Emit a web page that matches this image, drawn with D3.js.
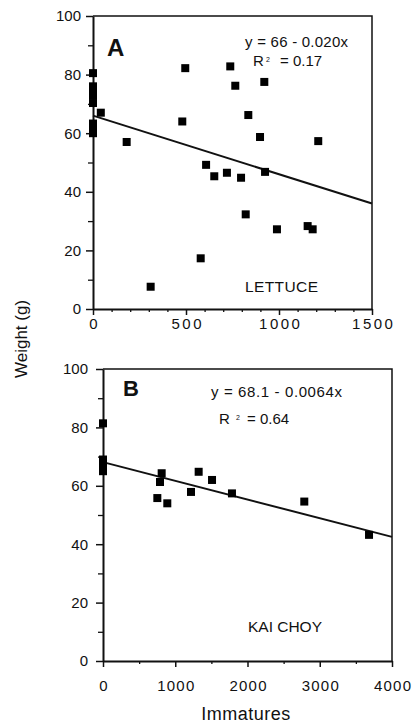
<!DOCTYPE html>
<html>
<head>
<meta charset="utf-8">
<script src="https://cdn.jsdelivr.net/npm/d3@7"></script>
<style>
  body { margin: 0; background: #fff; }
  svg text { font-family: "Liberation Sans", Arial, Helvetica, sans-serif; fill: #111; }
  .axis path, .axis line { stroke: #111; }
</style>
</head>
<body>
<script>
// Lettuce (panel A)
var lettuceX = [0, 0, 0, 0, 0, 0, 0, 0, 42, 181, 310, 480, 496, 579, 608, 652, 720, 738, 765, 796, 821, 835, 898, 921, 925, 989, 1154, 1181, 1211];
var lettuceY = [80.5, 76, 74.5, 73, 70.3, 63.3, 61.6, 60, 67, 57, 7.6, 64, 82.2, 17.3, 49.2, 45.3, 46.5, 82.8, 76.2, 44.8, 32.3, 66.2, 58.7, 77.5, 46.8, 27.2, 28.3, 27.2, 57.3];
var lettuceFit = [66, -0.020];

// Kai choy (panel B)
var kaiChoyX = [0, 0, 0, 0, 752, 789, 812, 890, 1218, 1324, 1509, 1785, 2786, 3682];
var kaiChoyY = [81.4, 69, 67, 65, 55.8, 61.3, 64.3, 54, 57.9, 64.8, 62, 57.4, 54.6, 43.2];
var kaiChoyFit = [68.1, -0.0064];

var yMajor = [0, 20, 40, 60, 80, 100];
var yMinor = [10, 30, 50, 70, 90];
var xMajorA = [0, 500, 1000, 1500];
var xMajorB = [0, 1000, 2000, 3000, 4000];

var svgW = 414, svgH = 723;
var svg = d3.select("body").append("svg").attr("width", svgW).attr("height", svgH);

function panel(p){
	var x = d3.scaleLinear().domain(p.xDomain).range([p.left, p.right]);
	var y = d3.scaleLinear().domain([0, 100]).range([p.bottom, p.top]);
	var g = svg.append("g");

	// frame (top and right)
	g.append("path")
		.attr("d", "M" + p.left + "," + p.top + "H" + p.right + "V" + p.bottom)
		.attr("fill", "none").attr("stroke", "#111").attr("stroke-width", 1.5);

	// minor ticks
	g.append("g").attr("class", "axis").attr("transform", "translate(0," + p.bottom + ")")
		.call(d3.axisBottom(x).tickValues(p.xMinor).tickSize(3).tickFormat(""))
		.call(function(s){ s.select(".domain").remove(); s.selectAll("line").attr("stroke-width", 1.3); });
	g.append("g").attr("class", "axis").attr("transform", "translate(" + p.left + ",0)")
		.call(d3.axisLeft(y).tickValues(yMinor).tickSize(5).tickFormat(""))
		.call(function(s){ s.select(".domain").remove(); s.selectAll("line").attr("stroke-width", 1.3); });

	// major axes
	var xa = g.append("g").attr("class", "axis").attr("transform", "translate(0," + p.bottom + ")")
		.call(d3.axisBottom(x).tickValues(p.xMajor).tickSizeInner(6).tickSizeOuter(0).tickPadding(p.xPad).tickFormat(d3.format("d")));
	xa.select(".domain").attr("stroke-width", 2);
	xa.selectAll("line").attr("stroke-width", 1.5);
	xa.selectAll("text").attr("font-size", 15).attr("fill", "#111")
		.style("letter-spacing", p.xSpacing + "px").attr("dx", p.xSpacing / 2 + "px");

	var ya = g.append("g").attr("class", "axis").attr("transform", "translate(" + p.left + ",0)")
		.call(d3.axisLeft(y).tickValues(yMajor).tickSizeInner(7).tickSizeOuter(0).tickPadding(p.yPad));
	ya.select(".domain").attr("stroke-width", 2);
	ya.selectAll("line").attr("stroke-width", 1.5);
	ya.selectAll("text").attr("font-size", 15).attr("fill", "#111");

	// regression line
	g.append("line")
		.attr("x1", x(p.xDomain[0])).attr("y1", y(p.fit[0] + p.fit[1] * p.xDomain[0]))
		.attr("x2", x(p.xDomain[1])).attr("y2", y(p.fit[0] + p.fit[1] * p.xDomain[1]))
		.attr("stroke", "#111").attr("stroke-width", 2);

	// points
	var pts = p.xs.map(function(d, i){ return {x: d, y: p.ys[i]}; });
	g.selectAll("rect.pt").data(pts).enter().append("rect").attr("class", "pt")
		.attr("x", function(d){ return x(d.x) - 4; })
		.attr("y", function(d){ return y(d.y) - 4; })
		.attr("width", 8).attr("height", 8).attr("fill", "#000");

	// panel letter
	g.append("text").attr("x", p.letterX).attr("y", p.letterY)
		.attr("font-size", p.letterSize).attr("font-weight", "bold").text(p.letter);

	// equation
	g.append("text").attr("x", p.eqX).attr("y", p.eqY).attr("font-size", 15)
		.attr("textLength", p.eqW).attr("lengthAdjust", "spacing").text(p.eq);
	g.append("text").attr("x", p.rX).attr("y", p.rY).attr("font-size", 15).text("R");
	g.append("text").attr("x", p.supX).attr("y", p.rY - 4).attr("font-size", 7).text("2");
	g.append("text").attr("x", p.r2X).attr("y", p.rY).attr("font-size", 15).text(p.r2);

	// crop name
	g.append("text").attr("x", p.cropX).attr("y", p.cropY).attr("font-size", 15.5)
		.attr("textLength", p.cropW).attr("lengthAdjust", "spacing").text(p.crop);
}

panel({
	left: 93, right: 372, top: 16, bottom: 309,
	xDomain: [0, 1500], xMajor: xMajorA, xMinor: d3.range(100, 1500, 100).filter(function(d){ return d % 500; }),
	xSpacing: 2.5, xPad: 3, yPad: 5,
	xs: lettuceX, ys: lettuceY, fit: lettuceFit,
	letter: "A", letterX: 107, letterY: 56, letterSize: 24,
	eq: "y = 66 - 0.020x", eqX: 245, eqY: 47, eqW: 103,
	rX: 253, rY: 65.5, supX: 266, r2X: 280, r2: "=  0.17",
	crop: "LETTUCE", cropX: 245, cropY: 291.5, cropW: 73
});

panel({
	left: 103, right: 392, top: 369, bottom: 661,
	xDomain: [0, 4000], xMajor: xMajorB, xMinor: [500, 1500, 2500, 3500],
	xSpacing: 1.2, xPad: 13, yPad: 8,
	xs: kaiChoyX, ys: kaiChoyY, fit: kaiChoyFit,
	letter: "B", letterX: 123, letterY: 396, letterSize: 22,
	eq: "y = 68.1 - 0.0064x", eqX: 211, eqY: 397, eqW: 131,
	rX: 219, rY: 423.5, supX: 236, r2X: 247, r2: "= 0.64",
	crop: "KAI CHOY", cropX: 248, cropY: 632, cropW: 74
});

// shared axis titles
svg.append("text").attr("transform", "translate(27,339) rotate(-90)")
	.attr("text-anchor", "middle").attr("font-size", 17).text("Weight (g)");
svg.append("text").attr("x", 246).attr("y", 720)
	.attr("text-anchor", "middle").attr("font-size", 18).style("letter-spacing", "0.5px").text("Immatures");
</script>
</body>
</html>
